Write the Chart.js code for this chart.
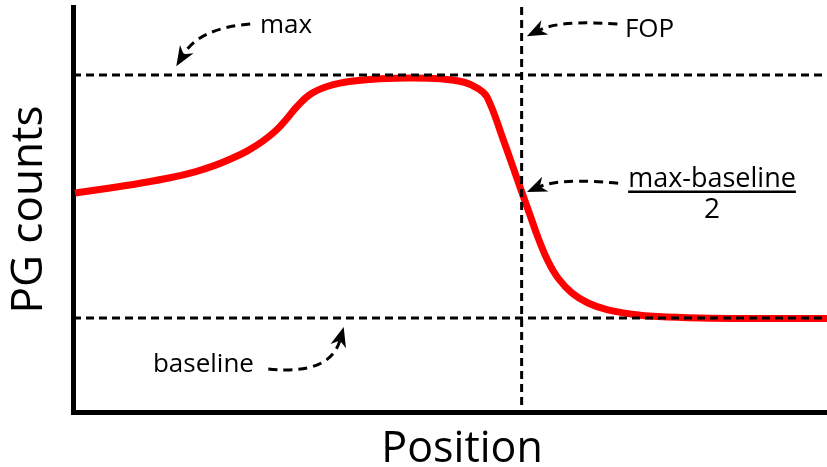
<!DOCTYPE html>
<html><head><meta charset="utf-8">
<script src="https://cdn.jsdelivr.net/npm/chart.js@4.4.0/dist/chart.umd.min.js"></script>
<style>html,body{margin:0;padding:0;background:#fff}#wrap{width:827px;height:467px}</style>
</head><body><div id="wrap"><canvas id="c"></canvas></div>
<script>
// ---- data ----
const posX     = [0.27, 4.91, 8.89, 12.86, 16.18, 18.83, 20.82, 23.08, 25.2, 27.06, 28.38, 29.71, 31.43, 33.69, 35.81, 37.8, 40.72, 44.3, 48.67, 51.99, 53.71, 54.91, 57.03, 59.28, 60.61, 61.67, 62.99, 64.32, 66.18, 68.3, 70.95, 74.14, 77.59, 83.16, 91.11, 100];
const pgCounts = [54.07, 55.31, 56.49, 57.83, 59.31, 60.89, 62.4, 64.42, 66.91, 69.75, 72.47, 75.43, 78.4, 80.37, 81.36, 81.85, 82.27, 82.47, 82.27, 81.36, 79.88, 77.78, 67.41, 55.56, 48.64, 43.09, 37.28, 33.09, 29.38, 26.91, 25.19, 24.15, 23.56, 23.21, 23.09, 23.09];
const maxLevel = 83.2;
const baseLevel = 23.2;
const fopPos = 59.5;
const axisMin = 0, axisMax = 100;
const labels = {x: 'Position', y: 'PG counts', max: 'max', fop: 'FOP', frac: 'max-baseline', fracDen: '2', base: 'baseline'};

// annotation anchors (data coordinates)
const arrows = [
  {from: [23.5, 95.8], ctrl: [16.8, 94.8], to: [13.7, 85.4]},
  {from: [72.2, 95.8], ctrl: [64.6, 96.8], to: [60.2, 92.8]},
  {from: [72.3, 56.5], ctrl: [64.6, 57.8], to: [60.2, 54.3]},
  {from: [25.9, 10.6], ctrl: [34.1, 9.1],  to: [35.9, 21.0]}
];
const texts = [
  {t: labels.max,  at: [24.8, 93.6], align: 'left', size: 26},
  {t: labels.fop,  at: [73.2, 92.6], align: 'left', size: 26},
  {t: labels.frac, at: [84.75, 55.6], align: 'center', size: 27, underline: true},
  {t: labels.fracDen, at: [84.75, 47.9], align: 'center', size: 28},
  {t: labels.base, at: [10.6, 9.9], align: 'left', size: 26},
  {t: labels.x, at: [51.6, -12.3], align: 'center', size: 43}
];

const FONT = "'Open Sans', 'Noto Sans', sans-serif";
const dashStyle = {borderColor: '#000', borderWidth: 3, borderDash: [8, 5], pointRadius: 0, fill: false, tension: 0, order: 1};

const annot = {
  id: 'annot',
  afterDatasetsDraw(chart) {
    const {ctx, scales: {x, y}} = chart;
    const P = p => [x.getPixelForValue(p[0]), y.getPixelForValue(p[1])];
    ctx.save();
    ctx.strokeStyle = '#000'; ctx.fillStyle = '#000';
    arrows.forEach(a => {
      const s = P(a.from), c = P(a.ctrl), e = P(a.to);
      const ang = Math.atan2(e[1] - c[1], e[0] - c[0]);
      const L = 20, W = 8, N = 6;
      const back = [e[0] - Math.cos(ang) * (L - N), e[1] - Math.sin(ang) * (L - N)];
      ctx.lineWidth = 3; ctx.setLineDash([9, 6]);
      ctx.beginPath(); ctx.moveTo(s[0], s[1]);
      ctx.quadraticCurveTo(c[0], c[1], back[0], back[1]);
      ctx.stroke();
      ctx.setLineDash([]);
      const bx = e[0] - Math.cos(ang) * L, by = e[1] - Math.sin(ang) * L;
      const px = -Math.sin(ang) * W, py = Math.cos(ang) * W;
      ctx.beginPath();
      ctx.moveTo(e[0], e[1]);
      ctx.lineTo(bx + px, by + py);
      ctx.lineTo(back[0], back[1]);
      ctx.lineTo(bx - px, by - py);
      ctx.closePath(); ctx.fill();
    });
    ctx.textBaseline = 'alphabetic';
    texts.forEach(t => {
      const p = P(t.at);
      ctx.font = t.size + 'px ' + FONT;
      ctx.textAlign = t.align;
      ctx.fillText(t.t, p[0], p[1]);
      if (t.underline) {
        const w = ctx.measureText(t.t).width;
        ctx.lineWidth = 2.5; ctx.beginPath();
        ctx.moveTo(p[0] - w / 2, p[1] + 5); ctx.lineTo(p[0] + w / 2, p[1] + 5); ctx.stroke();
      }
    });
    ctx.restore();
  }
};

new Chart(document.getElementById('c'), {
  type: 'line',
  data: {
    datasets: [
      {data: posX.map((v, i) => ({x: v, y: pgCounts[i]})), borderColor: '#ff0000', borderWidth: 7, pointRadius: 0, fill: false, tension: 0.4, order: 2, borderCapStyle: 'butt', borderJoinStyle: 'round'},
      Object.assign({data: [{x: axisMin, y: maxLevel}, {x: axisMax, y: maxLevel}]}, dashStyle),
      Object.assign({data: [{x: axisMin, y: baseLevel}, {x: axisMax, y: baseLevel}]}, dashStyle),
      Object.assign({data: [{x: fopPos, y: axisMax}, {x: fopPos, y: axisMin}]}, dashStyle)
    ]
  },
  options: {
    responsive: true, maintainAspectRatio: false, animation: false,
    layout: {padding: {top: 7, right: 0, left: 0, bottom: 0}},
    plugins: {legend: {display: false}, tooltip: {enabled: false}},
    scales: {
      x: {type: 'linear', min: axisMin, max: axisMax, ticks: {display: false}, grid: {display: false, drawTicks: false},
          border: {display: true, color: '#000', width: 5},
          afterFit: s => { s.height = 55; }},
      y: {type: 'linear', min: axisMin, max: axisMax, ticks: {display: false}, grid: {display: false, drawTicks: false},
          border: {display: true, color: '#000', width: 5},
          title: {display: true, text: labels.y, color: '#000', font: {family: FONT, size: 44}, padding: {top: 3, bottom: 0}},
          afterFit: s => { s.width = 73; }}
    }
  },
  plugins: [annot]
});
</script></body></html>
